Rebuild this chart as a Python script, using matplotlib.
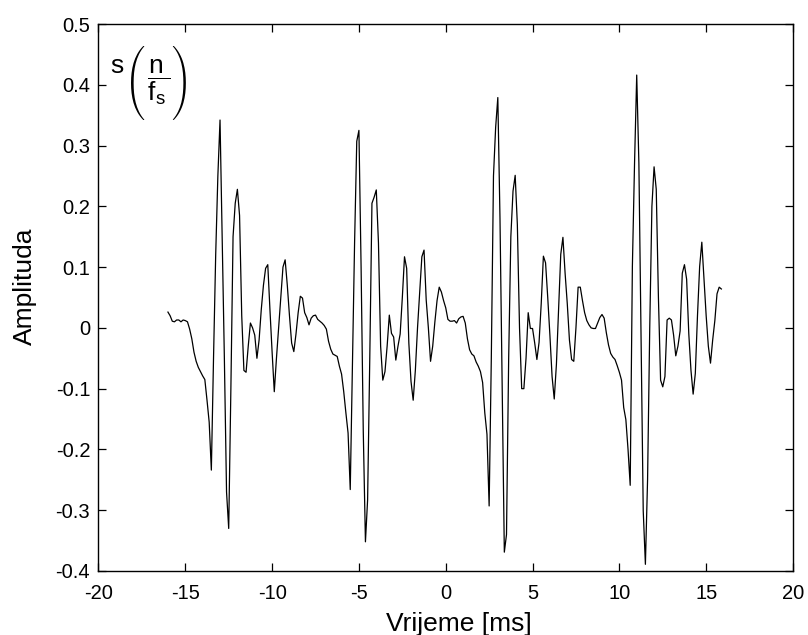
import numpy as np
import matplotlib
matplotlib.use("Agg")
import matplotlib.pyplot as plt

plt.rcParams['font.family'] = ['Liberation Sans', 'DejaVu Sans']
plt.rcParams['axes.unicode_minus'] = False
plt.rcParams['mathtext.fontset'] = 'custom'
plt.rcParams['mathtext.rm'] = 'Liberation Sans'
plt.rcParams['mathtext.it'] = 'Liberation Sans'
plt.rcParams['mathtext.bf'] = 'Liberation Sans:bold'

# Sampling: fs = 8 kHz, samples n = -128 ... 127
fs_khz = 8.0
n_first = -128

# Speech segment s(n/fs), one row per millisecond (8 samples)
amplitude = [
    0.026, 0.020, 0.011, 0.010, 0.013, 0.013, 0.010, 0.013,
    0.012, 0.010, -0.002, -0.018, -0.040, -0.055, -0.065, -0.072,
    -0.079, -0.085, -0.119, -0.155, -0.234, -0.050, 0.120, 0.250,
    0.342, 0.150, -0.050, -0.270, -0.330, -0.100, 0.150, 0.205,
    0.228, 0.185, 0.020, -0.070, -0.073, -0.030, 0.008, 0.000,
    -0.012, -0.050, -0.020, 0.030, 0.070, 0.098, 0.104, 0.030,
    -0.040, -0.105, -0.050, 0.000, 0.050, 0.100, 0.112, 0.070,
    0.020, -0.025, -0.039, -0.010, 0.025, 0.052, 0.049, 0.025,
    0.017, 0.005, 0.016, 0.020, 0.021, 0.014, 0.011, 0.008,
    0.004, -0.002, -0.022, -0.035, -0.043, -0.045, -0.047, -0.063,
    -0.076, -0.105, -0.140, -0.173, -0.266, -0.060, 0.140, 0.307,
    0.325, 0.100, -0.170, -0.352, -0.283, -0.050, 0.205, 0.215,
    0.227, 0.140, -0.030, -0.086, -0.072, -0.030, 0.021, -0.009,
    -0.015, -0.053, -0.030, -0.010, 0.050, 0.117, 0.098, -0.025,
    -0.088, -0.119, -0.070, 0.000, 0.060, 0.117, 0.128, 0.046,
    0.000, -0.055, -0.030, 0.010, 0.045, 0.067, 0.059, 0.045,
    0.033, 0.014, 0.011, 0.011, 0.012, 0.008, 0.015, 0.018,
    0.019, 0.008, -0.018, -0.036, -0.043, -0.046, -0.056, -0.063,
    -0.072, -0.090, -0.140, -0.175, -0.293, -0.050, 0.250, 0.330,
    0.379, 0.180, -0.100, -0.369, -0.340, -0.050, 0.150, 0.225,
    0.251, 0.170, 0.000, -0.100, -0.100, -0.050, 0.025, -0.001,
    -0.001, -0.025, -0.052, -0.024, 0.040, 0.118, 0.107, 0.050,
    -0.012, -0.080, -0.117, -0.060, 0.030, 0.121, 0.149, 0.090,
    0.040, -0.020, -0.052, -0.055, 0.000, 0.067, 0.067, 0.045,
    0.025, 0.012, 0.005, 0.000, -0.001, -0.001, 0.008, 0.017,
    0.022, 0.016, -0.008, -0.028, -0.042, -0.048, -0.052, -0.062,
    -0.073, -0.086, -0.131, -0.151, -0.200, -0.259, 0.101, 0.271,
    0.416, 0.271, -0.012, -0.301, -0.389, -0.250, 0.000, 0.200,
    0.265, 0.228, 0.050, -0.086, -0.097, -0.080, 0.013, 0.016,
    0.013, -0.012, -0.046, -0.030, -0.005, 0.090, 0.104, 0.080,
    -0.010, -0.070, -0.109, -0.075, 0.020, 0.101, 0.141, 0.080,
    0.020, -0.030, -0.058, -0.020, 0.012, 0.056, 0.067, 0.064,
]

x_ticks = [-20, -15, -10, -5, 0, 5, 10, 15, 20]
x_tick_labels = ['-20', '-15', '-10', '-5', '0', '5', '10', '15', '20']
y_ticks = [-0.4, -0.3, -0.2, -0.1, 0.0, 0.1, 0.2, 0.3, 0.4, 0.5]
y_tick_labels = ['-0.4', '-0.3', '-0.2', '-0.1', '0', '0.1', '0.2', '0.3', '0.4', '0.5']

n = np.arange(n_first, n_first + len(amplitude))
t_ms = n / fs_khz

fig = plt.figure(figsize=(8.08, 6.35), dpi=100)
ax = fig.add_axes([0.1219, 0.1008, 0.8595, 0.8614])

ax.plot(t_ms, amplitude, color='black', linewidth=0.9)

ax.set_xlim(-20, 20)
ax.set_ylim(-0.4, 0.5)
ax.set_xticks(x_ticks)
ax.set_xticklabels(x_tick_labels)
ax.set_yticks(y_ticks)
ax.set_yticklabels(y_tick_labels)

ax.tick_params(direction='in', top=True, right=True, length=5.5, width=0.9,
               labelsize=14.5, colors='black')
ax.tick_params(axis='x', pad=9.5)
ax.tick_params(axis='y', pad=6)
for sp in ax.spines.values():
    sp.set_linewidth(1.0)
    sp.set_color('black')

ax.set_xlabel('Vrijeme [ms]', fontsize=19)
ax.set_ylabel('Amplituda', fontsize=19)
ax.xaxis.set_label_coords(0.5187, -0.075)
ax.yaxis.set_label_coords(-0.0886, 0.520)

# s(n / fs) caption: the fraction is padded vertically so the parentheses grow tall
num = r'\genfrac{}{}{0}{0}{\genfrac{}{}{0}{0}{\ }{\ }}{n}'
den = r'\genfrac{}{}{0}{0}{f_s}{\genfrac{}{}{0}{0}{\ }{\ }}'
ax.text(0.0173, 0.9104, 's', transform=ax.transAxes,
        ha='left', va='baseline', fontsize=19)
ax.text(0.0365, 0.894, r'$\left(\,\dfrac{' + num + '}{' + den + r'}\right)$',
        transform=ax.transAxes, ha='left', va='center', fontsize=19)

fig.savefig('out.png', dpi=100)
